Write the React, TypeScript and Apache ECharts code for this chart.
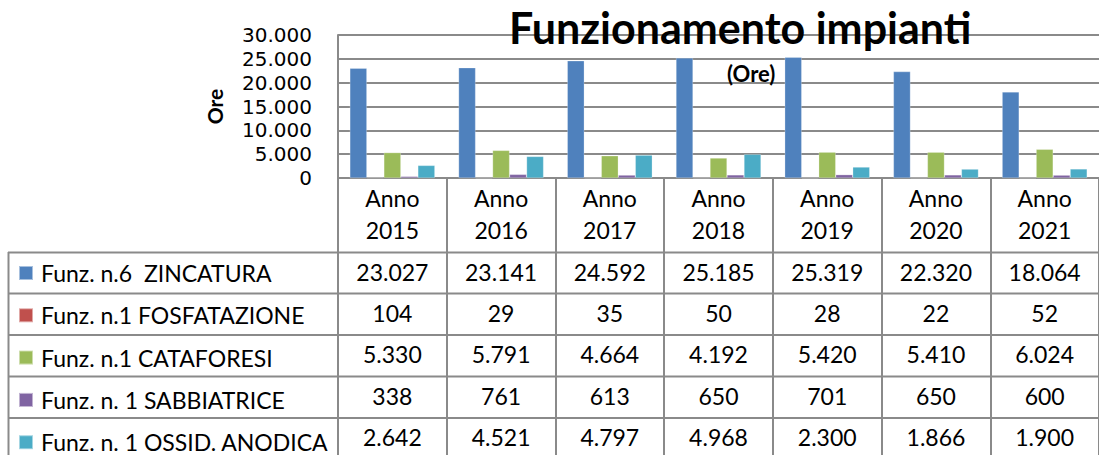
import React, { useEffect, useRef } from "react";
import * as echarts from "echarts";

const categories = ["Anno 2015", "Anno 2016", "Anno 2017", "Anno 2018", "Anno 2019", "Anno 2020", "Anno 2021"];
const seriesNames = [
  "Funz. n.6  ZINCATURA",
  "Funz. n.1 FOSFATAZIONE",
  "Funz. n.1 CATAFORESI",
  "Funz. n. 1 SABBIATRICE",
  "Funz. n. 1 OSSID. ANODICA",
];
const zincatura = [23027, 23141, 24592, 25185, 25319, 22320, 18064];
const fosfatazione = [104, 29, 35, 50, 28, 22, 52];
const cataforesi = [5330, 5791, 4664, 4192, 5420, 5410, 6024];
const sabbiatrice = [338, 761, 613, 650, 701, 650, 600];
const ossidAnodica = [2642, 4521, 4797, 4968, 2300, 1866, 1900];
const seriesData = [zincatura, fosfatazione, cataforesi, sabbiatrice, ossidAnodica];
const colors = ["#4F81BD", "#C0504D", "#9BBB59", "#8064A2", "#4BACC6"];
const yTicks = { min: 0, max: 30000, interval: 5000 };

const FONT = "Lato";
const fmt = (v: number) => String(v).replace(/\B(?=(\d{3})+(?!\d))/g, ".");

export default function App() {
  const ref = useRef<HTMLDivElement>(null);
  useEffect(() => {
    if (!ref.current) return;
    const chart = echarts.init(ref.current, undefined, { renderer: "svg" });
    const gridColor = "#8A8A8A";
    const rowTops = [252.5, 293.5, 335, 376.5, 418];
    const graphics: any[] = rowTops.map((y) => ({
      type: "line",
      shape: { x1: 8, y1: y, x2: 1099, y2: y },
      style: { stroke: gridColor, lineWidth: 2 },
    }));
    graphics.push({
      type: "line",
      shape: { x1: 8.5, y1: 252, x2: 8.5, y2: 455 },
      style: { stroke: gridColor, lineWidth: 2 },
    });
    chart.setOption({
      animation: false,
      color: colors,
      textStyle: { fontFamily: FONT },
      title: [
        {
          text: "Funzionamento impianti",
          left: 509,
          top: 6,
          padding: 0,
          textStyle: { fontFamily: FONT, fontSize: 43, fontWeight: "bold", color: "#000" },
        },
        {
          text: "(Ore)",
          left: 727,
          top: 62,
          padding: 0,
          textStyle: { fontFamily: FONT, fontSize: 22, fontWeight: "bold", color: "#000" },
        },
      ],
      legend: {
        orient: "vertical",
        left: 18,
        top: 261.5,
        height: 300,
        padding: 0,
        itemWidth: 14,
        itemHeight: 14,
        itemGap: 19.3,
        icon: "rect",
        selectedMode: false,
        textStyle: { fontFamily: FONT, fontSize: 23, lineHeight: 22, color: "#000", padding: [0, 0, 0, 3] },
        data: seriesNames,
      },
      grid: { left: 338, top: 35, width: 774, height: 143 },
      xAxis: {
        type: "category",
        data: categories,
        axisLine: { show: true, lineStyle: { color: gridColor, width: 2 } },
        axisTick: { show: true, length: 277, interval: 0, alignWithLabel: false, lineStyle: { color: gridColor, width: 2 } },
        axisLabel: {
          interval: 0,
          margin: 9,
          verticalAlign: "top",
          formatter: (value: string, idx: number) => {
            const [a, b] = value.split(" ");
            const rows = seriesData.map((s) => `{r|${fmt(s[idx])}}`).join("\n");
            return `{a|${a}}\n{b|${b}}\n${rows}`;
          },
          rich: {
            a: { fontFamily: FONT, fontSize: 23, lineHeight: 22, color: "#000" },
            b: { fontFamily: FONT, fontSize: 23, lineHeight: 42, color: "#000" },
            r: { fontFamily: FONT, fontSize: 23, lineHeight: 41.3, color: "#000" },
          },
        },
      },
      yAxis: {
        type: "value",
        min: yTicks.min,
        max: yTicks.max,
        interval: yTicks.interval,
        name: "Ore",
        nameLocation: "middle",
        nameRotate: 90,
        nameGap: 113,
        nameTextStyle: { fontFamily: FONT, fontSize: 21, fontWeight: "bold", color: "#000" },
        axisLine: { show: true, lineStyle: { color: gridColor, width: 2 } },
        axisTick: { show: false },
        splitLine: { show: true, lineStyle: { color: gridColor, width: 2 } },
        axisLabel: {
          margin: 26,
          fontFamily: "DejaVu Sans",
          fontSize: 20,
          color: "#000",
          lineHeight: 18,
          formatter: (v: number) => fmt(v),
        },
      },
      series: seriesNames.map((name, i) => ({
        name,
        type: "bar",
        data: seriesData[i],
        barWidth: 17,
        barGap: "0%",
        itemStyle: { color: colors[i], borderColor: "rgba(255,255,255,0.5)", borderWidth: 0.5 },
      })),
      graphic: graphics,
    });
    return () => chart.dispose();
  }, []);
  return <div ref={ref} style={{ width: 1099, height: 455, position: "absolute", left: 0, top: 0 }} />;
}
